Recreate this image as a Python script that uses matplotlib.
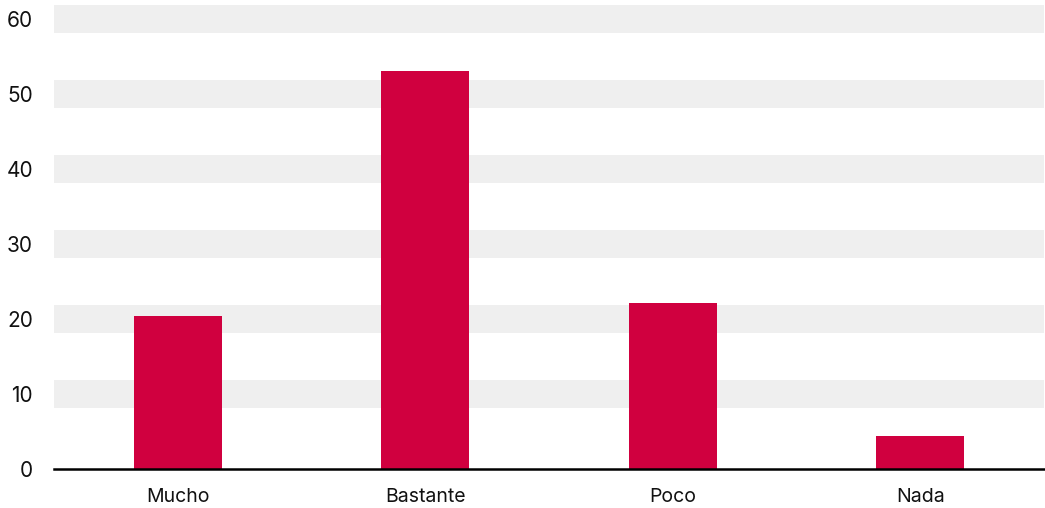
import matplotlib.pyplot as plt

# data
categories = ["Mucho", "Bastante", "Poco", "Nada"]
values = [20.4, 53.1, 22.1, 4.4]
y_ticks = [0, 10, 20, 30, 40, 50, 60]

plt.rcParams['font.family'] = ['Inter', 'DejaVu Sans']

fig = plt.figure(figsize=(10.45, 5.08), dpi=100)
ax = fig.add_axes([54 / 1045, 39 / 508, 990 / 1045, 464 / 508])

# grey bands centred on every tick except 0
for t in y_ticks[1:]:
    ax.axhspan(t - 1.87, t + 1.87, color="#efefef", lw=0, zorder=0)

x = range(len(categories))
ax.bar(x, values, width=0.356, color="#d0003f", zorder=2)

ax.set_xlim(-0.5, 3.5)
ax.set_ylim(0, 61.87)
ax.set_yticks(y_ticks)
ax.set_xticks(list(x))
ax.set_xticklabels(categories)

for s in ["top", "right", "left"]:
    ax.spines[s].set_visible(False)
ax.spines["bottom"].set_linewidth(1.8)
ax.spines["bottom"].set_color("black")
ax.spines["bottom"].set_zorder(3)

ax.tick_params(axis="y", length=0, pad=15, labelsize=15, labelcolor="#111111")
ax.tick_params(axis="x", length=0, pad=14, labelsize=14, labelcolor="#111111")

fig.savefig("out.png", dpi=100)
